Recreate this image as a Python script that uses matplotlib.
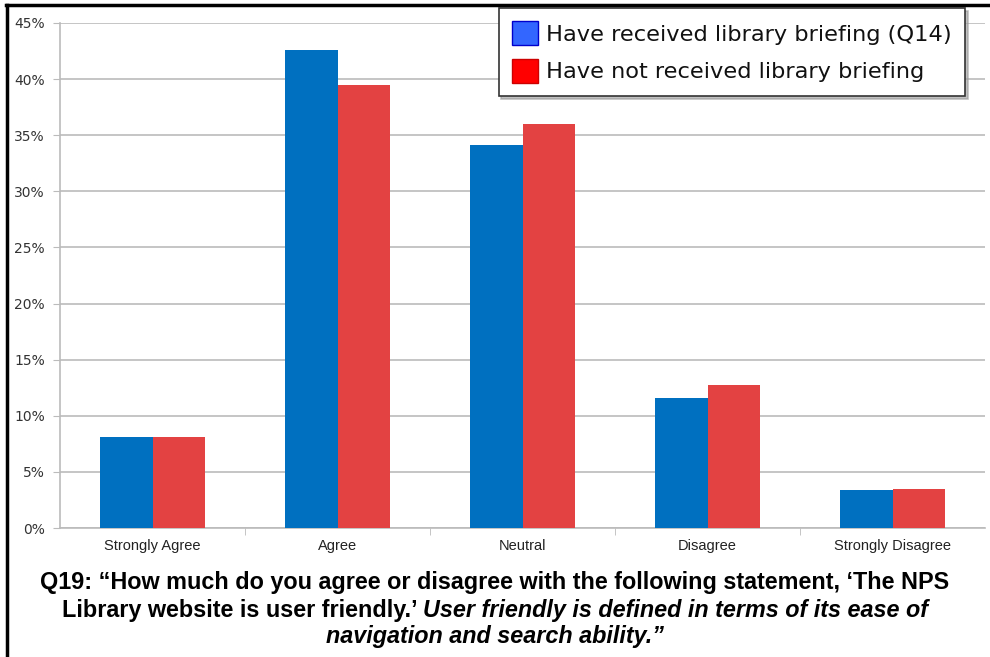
import numpy as np
import matplotlib.pyplot as plt
from matplotlib.patches import Patch
from matplotlib.lines import Line2D
from matplotlib.ticker import FuncFormatter

categories = ["Strongly Agree", "Agree", "Neutral", "Disagree", "Strongly Disagree"]
briefed = [8.1, 42.6, 34.1, 11.6, 3.4]
not_briefed = [8.1, 39.5, 36.0, 12.7, 3.5]
series_labels = ["Have received library briefing (Q14)", "Have not received library briefing"]

narrow = ["Liberation Sans Narrow", "Liberation Sans", "DejaVu Sans"]

fig = plt.figure(figsize=(9.9, 6.57), dpi=100)
ax = fig.add_axes([60 / 990, 1 - 528 / 657, 925 / 990, 505 / 657])

x = np.arange(len(categories))
w = 0.285
ax.bar(x - w / 2, briefed, w, color="#0070C0", zorder=3)
ax.bar(x + w / 2, not_briefed, w, color="#E34242", zorder=3)

ax.set_xlim(-0.5, len(categories) - 0.5)
ax.set_ylim(0, 45)
ax.set_yticks(np.arange(0, 46, 5))
ax.yaxis.set_major_formatter(FuncFormatter(lambda v, p: f"{v:.0f}%"))
ax.grid(axis="y", color="#BBBBBB", linewidth=1.2, zorder=0)

ax.set_xticks(x)
ax.set_xticklabels(categories, fontsize=10.5, family=narrow, color="#222222")
ax.set_xticks(np.arange(0.5, len(categories) - 0.5, 1), minor=True)
ax.tick_params(axis="x", which="major", length=0, pad=8)
ax.tick_params(axis="x", which="minor", length=5, color="#BBBBBB")
ax.tick_params(axis="y", length=5, color="#BBBBBB", labelsize=10, labelcolor="#333333", pad=6)

for side in ["top", "right"]:
    ax.spines[side].set_visible(False)
for side in ["left", "bottom"]:
    ax.spines[side].set_color("#BBBBBB")
    ax.spines[side].set_linewidth(1.2)

handles = [
    Patch(facecolor="#3366FF", edgecolor="#0000CC", linewidth=1),
    Patch(facecolor="#FF0000", edgecolor="#CC0000", linewidth=1),
]
leg = ax.legend(handles, series_labels, loc="upper right", bbox_to_anchor=(965 / 990, 1 - 8 / 657),
                bbox_transform=fig.transFigure, fontsize=16.2, frameon=True, fancybox=False,
                shadow={"color": "#999999", "alpha": 0.6}, handlelength=1.15, handleheight=1.25,
                handletextpad=0.35, borderpad=0.6, labelspacing=0.6, borderaxespad=0)
leg.get_frame().set_edgecolor("#333333")
leg.get_frame().set_linewidth(1.2)
for t in leg.get_texts():
    t.set_color("#111111")

# question text under the chart
fs = 16.8
fig.text(0.5, 1 - 583 / 657,
         "Q19: \u201cHow much do you agree or disagree with the following statement, \u2018The NPS",
         ha="center", va="center", fontsize=fs, fontweight="bold", family=narrow)
l2a = "Library website is user friendly.\u2019 "
l2b = "User friendly is defined in terms of its ease of"
t1 = fig.text(0.5, 1 - 610 / 657, l2a, ha="right", va="center", fontsize=fs,
              fontweight="bold", family=narrow)
t2 = fig.text(0.5, 1 - 610 / 657, l2b, ha="left", va="center", fontsize=fs,
              fontweight="bold", style="italic", family=narrow)
fig.canvas.draw()
r = fig.canvas.get_renderer()
wa = t1.get_window_extent(r).width / fig.bbox.width
wb = t2.get_window_extent(r).width / fig.bbox.width
start = 0.5 - (wa + wb) / 2
t1.set_ha("left")
t1.set_x(start)
t2.set_x(start + wa)
fig.text(0.5, 1 - 637 / 657, "navigation and search ability.\u201d", ha="center", va="center",
         fontsize=fs, fontweight="bold", style="italic", family=narrow)

# outer frame lines on top and left edges
fig.add_artist(Line2D([6 / 990, 1], [1 - 5 / 657, 1 - 5 / 657], transform=fig.transFigure,
                      color="black", linewidth=2.5))
fig.add_artist(Line2D([7 / 990, 7 / 990], [0, 1 - 5 / 657], transform=fig.transFigure,
                      color="black", linewidth=2.5))

fig.savefig("out.png", dpi=100)
